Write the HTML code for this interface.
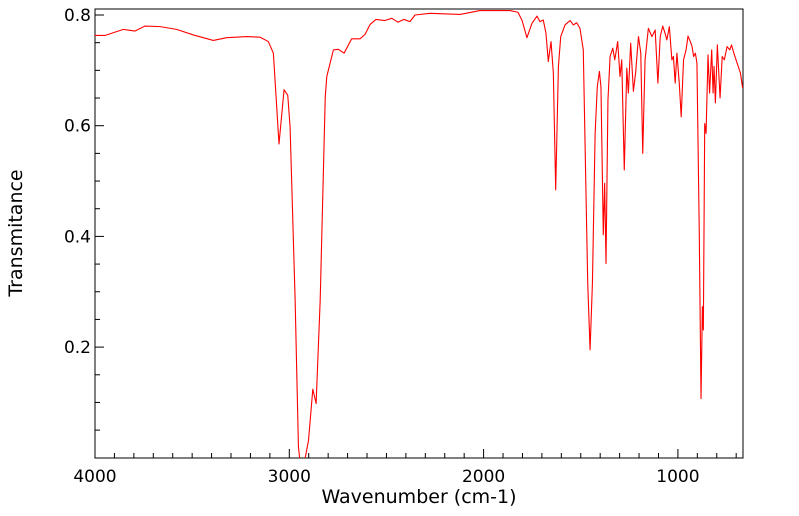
<!DOCTYPE html>
<html><head><meta charset="utf-8"><style>
html,body{margin:0;padding:0;background:#fff;}
svg{display:block;font-family:"DejaVu Sans","Liberation Sans",sans-serif;}
</style></head><body>
<svg id="chart" width="799" height="516" viewBox="0 0 799 516" xmlns="http://www.w3.org/2000/svg">
<defs><clipPath id="plotclip"><rect x="95" y="9" width="648" height="449"/></clipPath></defs>
<rect x="95" y="9" width="648" height="449" fill="#fff" stroke="#000" stroke-width="1"/>
<g id="ticks"></g>
<g clip-path="url(#plotclip)"><polyline id="spectrum" fill="none" stroke="#ff0000" stroke-width="1.1" stroke-linejoin="round"/></g>
<text x="419" y="503" font-size="19" text-anchor="middle">Wavenumber (cm-1)</text>
<text x="22" y="233" font-size="19" text-anchor="middle" transform="rotate(-90 22 233)">Transmitance</text>
</svg>
<script>
const wavenumbers = [4000,3949,3854,3794,3743,3665,3580,3494,3391,3322,3219,3151,3108,3082,3053,3027,3008,2996,2970,2953,2941,2918,2901,2879,2862,2841,2815,2807,2773,2747,2718,2679,2636,2610,2584,2554,2508,2472,2441,2410,2379,2353,2276,2121,2019,1864,1823,1802,1777,1751,1725,1710,1693,1679,1667,1653,1641,1629,1615,1603,1581,1555,1538,1521,1504,1487,1474,1464,1452,1440,1426,1415,1404,1396,1384,1377,1370,1360,1349,1335,1325,1318,1310,1298,1289,1276,1263,1255,1243,1229,1217,1203,1191,1181,1169,1152,1134,1117,1103,1091,1078,1066,1057,1044,1031,1023,1014,1005,993,983,971,958,948,936,927,919,910,902,890,881,874,869,862,855,845,837,826,819,814,807,797,783,772,761,747,733,724,712,695,678,667];
const transmittance = [0.763,0.763,0.774,0.771,0.780,0.779,0.774,0.764,0.754,0.759,0.761,0.760,0.752,0.731,0.567,0.665,0.655,0.598,0.285,0.02,-0.02,0.0,0.032,0.124,0.098,0.285,0.652,0.689,0.737,0.738,0.731,0.757,0.757,0.765,0.783,0.792,0.790,0.794,0.787,0.792,0.788,0.800,0.803,0.801,0.808,0.808,0.805,0.790,0.759,0.785,0.798,0.788,0.791,0.767,0.716,0.752,0.695,0.484,0.707,0.761,0.782,0.790,0.782,0.786,0.776,0.737,0.496,0.315,0.195,0.315,0.586,0.670,0.698,0.670,0.403,0.496,0.351,0.646,0.725,0.740,0.719,0.734,0.752,0.689,0.719,0.520,0.704,0.659,0.749,0.662,0.698,0.761,0.731,0.550,0.719,0.776,0.761,0.773,0.677,0.761,0.780,0.767,0.755,0.779,0.719,0.725,0.677,0.731,0.677,0.616,0.719,0.737,0.762,0.752,0.743,0.725,0.731,0.713,0.406,0.107,0.273,0.231,0.604,0.586,0.728,0.659,0.737,0.659,0.707,0.641,0.746,0.650,0.725,0.719,0.743,0.737,0.746,0.731,0.713,0.695,0.668];
const xTickLabels = [4000,3000,2000,1000];
const yTickLabels = [0.2,0.4,0.6,0.8];

const X0=95, PXW=0.1943, Y0=457.8, PYT=553.5;
function xs(w){return X0+(4000-w)*PXW;}
function ys(t){return Y0-t*PYT;}
const NS="http://www.w3.org/2000/svg";
const line=document.getElementById('spectrum');
line.setAttribute('points', wavenumbers.map((w,i)=>xs(w).toFixed(2)+','+ys(transmittance[i]).toFixed(2)).join(' '));
const g=document.getElementById('ticks');
function mk(tag,attrs){const e=document.createElementNS(NS,tag);for(const k in attrs)e.setAttribute(k,attrs[k]);g.appendChild(e);return e;}
for(let w=4000;w>=700;w-=100){
  const major=xTickLabels.includes(w);
  const x=xs(w);
  const t=mk('line',{x1:x,x2:x,y1:458,y2:458-(major?9:5),stroke:'#000','stroke-width':1});
  
  
}
xTickLabels.forEach(w=>{
  const t=mk('text',{x:xs(w),y:482,'font-size':17,'text-anchor':'middle'});
  t.textContent=w;
  
  
});
for(let k=1;k<=16;k++){
  const v=k*0.05;
  const major=(k%4===0);
  const y=ys(v);
  const t=mk('line',{x1:95,x2:95+(major?9:5),y1:y,y2:y,stroke:'#000','stroke-width':1});
  
  
}
yTickLabels.forEach(v=>{
  const t=mk('text',{x:91,y:ys(v)+6,'font-size':17,'text-anchor':'end'});
  t.textContent=v.toFixed(1);
  
  
});
</script>
</body></html>
